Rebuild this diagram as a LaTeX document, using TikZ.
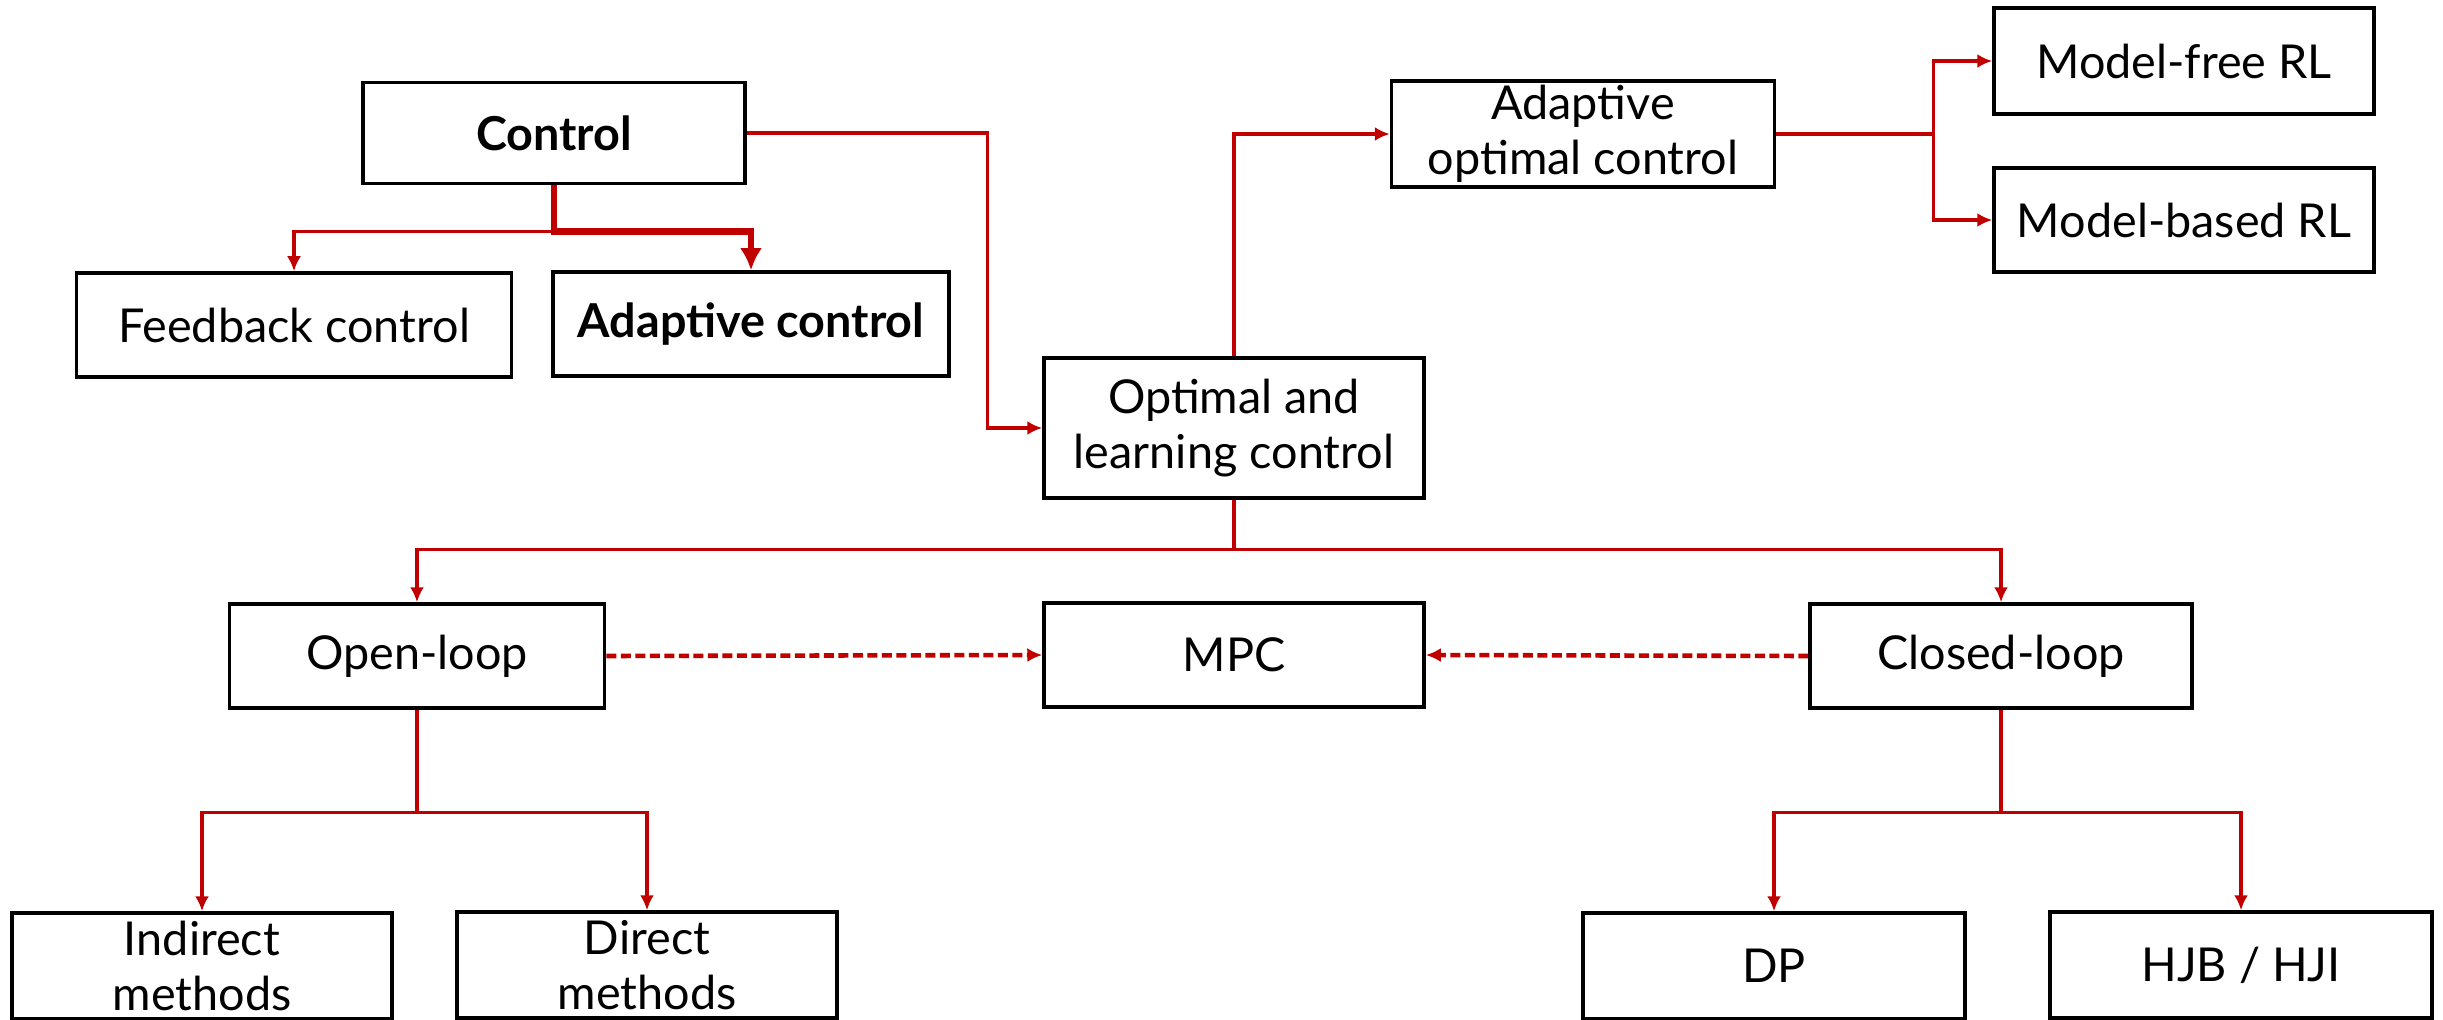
\documentclass[tikz,border=0pt]{standalone}
\usepackage{fontspec}
\setmainfont{Lato}
\usepackage{tikz}
\usetikzlibrary{arrows.meta}
\definecolor{darkred}{RGB}{192,0,0}

\begin{document}
\begin{tikzpicture}[>={Latex[length=1.5mm,width=1.4mm]},line width=0.9pt,
	box/.style={draw=black,line width=1pt,minimum width=3.8cm,minimum height=1.04cm,inner sep=0pt,align=center,font=\fontsize{13.3}{15.5}\selectfont},
	link/.style={->,darkred},
	biglink/.style={darkred,line width=1.9pt,-{Latex[length=2.2mm,width=2.2mm]}},
	dlink/.style={->,darkred,line width=1.3pt,dash pattern=on 1mm off 0.45mm}]

\useasboundingbox (0,0) rectangle (24.43,-10.19);

\node[box,minimum width=3.82cm,minimum height=1.01cm]	(ctrl)	at (5.54,-1.33)	{\textbf{Control}};
\node[box,minimum width=4.35cm]		(fb)	at (2.94,-3.25)		{Feedback control};
\node[box,minimum width=3.96cm]		(ac)	at (7.51,-3.24)		{\textbf{Adaptive control}};
\node[box,minimum height=1.40cm]	(opt)	at (12.34,-4.28)	{Optimal and\\learning control};
\node[box,minimum width=3.83cm,minimum height=1.06cm]	(aoc)	at (15.83,-1.34)	{Adaptive\\optimal control};
\node[box,minimum height=1.06cm]	(mf)	at (21.84,-0.61)	{Model-free RL};
\node[box]				(mb)	at (21.84,-2.20)	{Model-based RL};
\node[box,minimum width=3.75cm]		(ol)	at (4.17,-6.56)		{Open-loop};
\node[box]				(mpc)	at (12.34,-6.55)	{MPC};
\node[box,minimum width=3.82cm]		(cl)	at (20.01,-6.56)	{Closed-loop};
\node[box,minimum height=1.06cm]	(ind)	at (2.02,-9.66)		{Indirect\\methods};
\node[box,minimum height=1.06cm]	(dir)	at (6.47,-9.65)		{Direct\\methods};
\node[box,minimum width=3.82cm,minimum height=1.06cm]	(dp)	at (17.74,-9.66)	{DP};
\node[box,minimum width=3.82cm,minimum height=1.06cm]	(hjb)	at (22.41,-9.65)	{HJB / HJI};

\draw[link]	(ctrl.south) -- ++(0,-0.46) -| (fb.north);
\draw[biglink]	(ctrl.south) -- ++(0,-0.46) -| (ac.north);
\draw[link]	(ctrl.east) -- ++(2.41,0) |- (opt.west);
\draw[link]	(opt.north) |- (aoc.west);
\draw[link]	(aoc.east) -- ++(1.57,0) |- (mf.west);
\draw[link]	(aoc.east) -- ++(1.57,0) |- (mb.west);
\draw[link]	(opt.south) -- ++(0,-0.5) -| (ol.north);
\draw[link]	(opt.south) -- ++(0,-0.5) -| (cl.north);
\draw[dlink]	(ol.east) -- (mpc.west);
\draw[dlink]	(cl.west) -- (mpc.east);
\draw[link]	(ol.south) -- ++(0,-1.03) -| (ind.north);
\draw[link]	(ol.south) -- ++(0,-1.03) -| (dir.north);
\draw[link]	(cl.south) -- ++(0,-1.03) -| (dp.north);
\draw[link]	(cl.south) -- ++(0,-1.03) -| (hjb.north);
\end{tikzpicture}
\end{document}
